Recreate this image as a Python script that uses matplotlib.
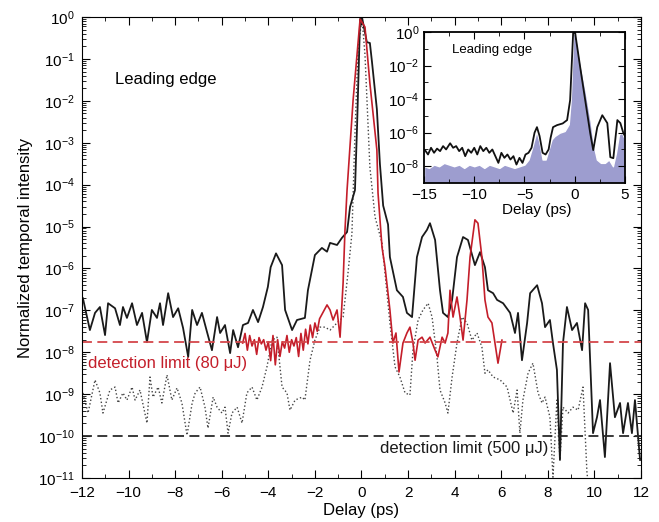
import numpy as np
import matplotlib.pyplot as plt
from matplotlib.ticker import MultipleLocator, LogLocator, FixedLocator, NullFormatter

plt.rcParams['font.family'] = ['Liberation Sans', 'DejaVu Sans']
plt.rcParams['mathtext.fontset'] = 'custom'
plt.rcParams['mathtext.rm'] = 'Liberation Sans'
plt.rcParams['mathtext.it'] = 'Liberation Sans:italic'

# main panel, values are log10 of the normalized intensity
black_x = [-11.96, -11.66, -11.44, -11.23, -11.01, -10.88, -10.58, -10.37, -10.24, -10.07,
           -9.85, -9.64, -9.42, -9.21, -9.0, -8.78, -8.65, -8.52, -8.30, -8.09,
           -7.87, -7.66, -7.44, -7.27, -7.06, -6.85, -6.63, -6.42, -6.20, -6.07,
           -5.86, -5.64, -5.51, -5.30, -5.09, -4.87, -4.66, -4.44, -4.23, -4.02,
           -3.90, -3.67, -3.41, -3.28, -2.98, -2.77, -2.43, -2.30, -2.00, -1.70,
           -1.48, -1.35, -1.05, -0.84, -0.62, -0.49, -0.28, -0.19, -0.06, 0.02,
           0.23, 0.36, 0.45, 0.66, 0.79, 0.93, 1.14, 1.22, 1.52, 1.78,
           1.95, 2.17, 2.38, 2.60, 2.81, 2.94, 3.16, 3.37, 3.50, 3.71,
           3.89, 4.10, 4.36, 4.57, 4.87, 5.09, 5.30, 5.43, 5.65, 5.82,
           6.08, 6.38, 6.59, 6.72, 6.89, 7.11, 7.24, 7.54, 7.75, 7.88,
           8.09, 8.22, 8.39, 8.52, 8.65, 8.82, 9.04, 9.25, 9.47, 9.60,
           9.73, 9.94, 10.11, 10.24, 10.45, 10.67, 10.88, 11.10, 11.23, 11.44,
           11.61, 11.74, 11.96]
black_exp = [-6.71, -7.47, -7.06, -6.92, -7.59, -6.83, -6.95, -7.35, -6.92, -7.18,
             -6.83, -7.35, -7.06, -7.76, -6.99, -7.18, -6.83, -7.35, -6.59, -7.16,
             -6.95, -7.42, -8.11, -6.99, -7.35, -7.06, -7.52, -7.95, -7.16, -7.54,
             -7.35, -8.02, -7.47, -7.88, -7.35, -7.30, -6.99, -7.28, -6.92, -6.44,
             -5.97, -5.64, -5.92, -6.99, -7.47, -7.23, -7.18, -6.52, -5.68, -5.51,
             -5.60, -5.39, -5.44, -5.27, -5.13, -4.53, -4.13, -2.60, -0.05, 0.0,
             -0.60, -0.62, -1.07, -2.20, -3.50, -4.50, -4.95, -5.73, -6.52, -6.68,
             -7.06, -7.16, -5.73, -5.25, -5.08, -4.92, -5.32, -6.52, -7.06, -7.16,
             -6.75, -5.73, -5.25, -5.32, -5.92, -5.61, -5.97, -6.52, -6.59, -6.75,
             -6.83, -7.06, -7.54, -7.06, -8.19, -7.30, -6.59, -6.40, -6.83, -7.40,
             -7.23, -7.78, -8.42, -10.57, -7.78, -6.92, -7.47, -7.30, -7.95, -6.83,
             -6.99, -9.93, -9.55, -9.14, -10.50, -8.26, -9.55, -9.21, -9.93, -9.21,
             -9.93, -9.14, -10.57]

red_x = [-5.1, -5.0, -4.9, -4.8, -4.7, -4.6, -4.5, -4.4, -4.3, -4.2,
         -4.1, -4.0, -3.9, -3.8, -3.7, -3.6, -3.5, -3.4, -3.3, -3.2,
         -3.1, -3.0, -2.9, -2.8, -2.7, -2.6, -2.5, -2.4, -2.3, -2.2,
         -2.1, -2.0, -1.9, -1.8, -1.48, -1.35, -1.22, -1.05, -0.92, -0.79,
         -0.71, -0.62, -0.36, -0.06, 0.15, 0.36, 0.66, 0.71, 0.88, 1.01,
         1.22, 1.35, 1.48, 1.61, 1.78, 1.95, 2.08, 2.21, 2.30, 2.43,
         2.60, 2.73, 2.94, 3.16, 3.28, 3.46, 3.59, 3.71, 3.80, 3.93,
         4.10, 4.23, 4.36, 4.53, 4.66, 4.87, 5.00, 5.17, 5.30, 5.43,
         5.60, 5.73, 5.86, 6.03]
red_exp = [-7.78, -7.55, -7.95, -7.60, -7.85, -7.70, -8.05, -7.65, -7.80, -7.70,
           -7.95, -7.75, -8.20, -7.60, -8.30, -7.70, -8.10, -7.75, -7.90, -7.60,
           -8.00, -7.70, -7.85, -7.65, -8.10, -7.55, -7.95, -7.45, -7.80, -7.35,
           -7.65, -7.30, -7.50, -7.20, -6.87, -6.99, -7.23, -6.99, -7.64, -6.35,
           -5.10, -4.13, -1.98, -0.05, -0.24, -1.58, -3.17, -4.20, -5.49, -5.97,
           -6.99, -7.78, -7.54, -8.47, -7.78, -7.54, -7.40, -7.78, -8.19, -7.71,
           -7.64, -7.78, -7.64, -7.95, -8.11, -7.64, -7.78, -7.54, -6.52, -7.16,
           -6.68, -7.16, -7.71, -6.75, -5.73, -4.84, -4.92, -5.73, -6.75, -7.16,
           -7.30, -7.78, -8.26, -7.71]

gray_x = [-11.96, -11.74, -11.44, -11.23, -11.10, -10.80, -10.58, -10.45, -10.24, -10.07,
          -9.85, -9.72, -9.51, -9.21, -9.08, -8.95, -8.73, -8.57, -8.35, -8.14,
          -7.92, -7.71, -7.49, -7.27, -7.14, -6.93, -6.72, -6.59, -6.37, -6.20,
          -5.99, -5.86, -5.73, -5.56, -5.34, -5.13, -4.92, -4.70, -4.49, -4.27,
          -4.06, -3.84, -3.63, -3.41, -3.20, -3.07, -2.85, -2.55, -2.43, -2.21,
          -2.00, -1.78, -1.57, -1.35, -1.05, -0.79, -0.58, -0.41, -0.28, -0.15,
          0.02, 0.15, 0.36, 0.58, 0.88, 1.01, 1.22, 1.44, 1.65, 1.87,
          2.08, 2.21, 2.43, 2.64, 2.86, 3.03, 3.24, 3.37, 3.59, 3.71,
          3.89, 4.10, 4.32, 4.53, 4.74, 4.96, 5.17, 5.30, 5.43, 5.65,
          5.95, 6.25, 6.51, 6.68, 6.80, 6.93, 7.15, 7.36, 7.58, 7.75,
          7.88, 8.09, 8.22, 8.39, 8.52, 8.65, 8.87, 9.08, 9.30, 9.51,
          9.68, 9.85]
gray_exp = [-8.97, -9.45, -8.66, -8.97, -9.45, -8.90, -8.83, -9.21, -8.97, -9.14,
            -8.83, -9.14, -8.90, -9.69, -8.59, -9.07, -8.83, -9.21, -8.54, -9.14,
            -8.85, -9.21, -9.98, -9.21, -8.97, -8.83, -9.31, -9.81, -9.07, -9.31,
            -9.45, -9.31, -9.93, -9.45, -9.31, -9.69, -8.97, -8.83, -9.14, -8.83,
            -8.35, -7.71, -7.64, -8.83, -8.97, -9.38, -9.14, -9.07, -9.14, -8.19,
            -7.71, -7.40, -7.40, -7.47, -7.30, -7.16, -6.11, -5.16, -2.77, -0.79,
            -0.02, -0.90, -3.58, -4.77, -5.39, -6.11, -7.30, -8.35, -8.59, -8.97,
            -9.02, -7.95, -7.23, -6.99, -6.83, -7.16, -8.11, -8.90, -9.21, -9.45,
            -8.59, -7.78, -7.16, -7.30, -7.71, -7.54, -7.88, -8.50, -8.42, -8.59,
            -8.66, -8.83, -9.45, -8.90, -9.93, -9.14, -8.50, -8.26, -8.97, -9.21,
            -9.07, -9.55, -10.98, -9.14, -10.57, -9.31, -9.45, -9.31, -9.38, -8.83,
            -10.88, -11.60]

limit_80 = 1.8e-8
limit_500 = 1e-10

# inset panel
in_x = [-14.9, -14.6, -14.3, -14.0, -13.7, -13.4, -13.1, -12.8, -12.4, -12.1,
        -11.8, -11.5, -11.2, -10.9, -10.6, -10.3, -10.0, -9.7, -9.4, -9.1,
        -8.8, -8.5, -8.2, -7.9, -7.6, -7.3, -7.0, -6.7, -6.4, -6.1,
        -5.8, -5.5, -5.2, -4.9, -4.6, -4.3, -4.0, -3.76, -3.5, -3.2,
        -2.9, -2.6, -2.4, -2.16, -1.76, -1.2, -0.76, -0.46, -0.16, 0.04,
        0.54, 1.04, 1.54, 1.84, 2.24, 2.74, 3.24, 3.54, 3.84, 4.24,
        4.54, 4.84, 5.0]
in_exp = [-7.04, -7.30, -6.90, -7.20, -6.95, -7.10, -6.80, -7.00, -6.63, -6.90,
          -6.80, -7.10, -6.90, -7.40, -7.00, -7.20, -6.90, -7.30, -6.80, -7.10,
          -6.90, -7.20, -7.00, -7.40, -7.80, -7.20, -7.50, -7.30, -7.60, -7.40,
          -7.90, -7.50, -7.80, -7.30, -7.20, -6.90, -6.00, -5.67, -6.20, -7.20,
          -7.30, -7.00, -6.30, -5.67, -5.55, -5.45, -5.25, -4.06, -0.06, -0.06,
          -2.09, -4.06, -6.03, -7.04, -5.67, -4.96, -5.43, -7.46, -7.52, -5.25,
          -5.43, -6.03, -6.20]

fill_x = [-15.0, -14.5, -14.0, -13.5, -13.0, -12.5, -12.0, -11.5, -11.0, -10.5,
          -10.0, -9.5, -9.0, -8.5, -8.0, -7.5, -7.0, -6.5, -6.0, -5.5,
          -5.0, -4.6, -4.2, -3.8, -3.5, -3.2, -2.9, -2.6, -2.3, -2.0,
          -1.5, -1.0, -0.6, -0.4, -0.15, 0.1, 0.6, 1.1, 1.6, 1.9,
          2.2, 2.6, 3.0, 3.4, 3.8, 4.1, 4.4, 4.7, 5.0]
fill_exp = [-8.0, -8.1, -7.9, -8.0, -7.8, -7.9, -8.0, -7.9, -8.1, -7.9,
            -8.0, -7.9, -8.1, -7.9, -8.0, -8.1, -7.9, -8.0, -8.1, -8.0,
            -7.9, -7.6, -6.8, -5.9, -6.6, -7.6, -7.6, -7.0, -6.4, -6.2,
            -6.0, -5.9, -5.5, -4.0, -0.1, -0.1, -2.0, -3.6, -5.4, -6.8,
            -7.6, -7.8, -7.8, -7.6, -8.0, -7.2, -6.1, -6.0, -6.4]

fig = plt.figure(figsize=(6.59, 5.22), dpi=100)
ax = fig.add_axes([0.1244, 0.0843, 0.8483, 0.8831])

ax.plot(gray_x, 10.0 ** np.array(gray_exp), color='#444444', ls=':', lw=1.0)
ax.plot(black_x, 10.0 ** np.array(black_exp), color='#1a1a1a', lw=1.3)
ax.plot(red_x, 10.0 ** np.array(red_exp), color='#c41e2a', lw=1.2)
ax.axhline(limit_80, color='#d4474b', ls=(0, (5.5, 3)), lw=1.3)
ax.axhline(limit_500, color='#2a2a2a', ls=(0, (5.5, 3)), lw=1.3)

ax.text(-11.74, 10 ** -8.26, 'detection limit (80 μJ)', color='#c41e2a',
        va='center', fontsize=12)
ax.text(0.79, 10 ** -10.29, 'detection limit (500 μJ)', color='#1a1a1a',
        va='center', fontsize=12)
ax.text(-10.6, 10 ** -1.5, 'Leading edge', va='center', fontsize=12)

ax.set_xlim(-12, 12)
ax.set_yscale('log')
ax.set_ylim(1e-11, 1)
ax.xaxis.set_major_locator(MultipleLocator(2))
ax.xaxis.set_minor_locator(MultipleLocator(1))
ax.yaxis.set_major_locator(LogLocator(base=10, numticks=20))
ax.yaxis.set_minor_locator(LogLocator(base=10, subs=np.arange(2, 10), numticks=20))
ax.yaxis.set_minor_formatter(NullFormatter())
ax.tick_params(which='both', direction='in', top=True, right=True, labelsize=11)
ax.tick_params(which='major', length=6)
ax.tick_params(which='minor', length=3)
ax.tick_params(axis='x', which='major', pad=6)
ax.tick_params(axis='y', which='major', pad=5)
ax.set_xlabel('Delay (ps)', fontsize=12, labelpad=2)
ax.set_ylabel('Normalized temporal intensity', fontsize=12)

# inset
axin = fig.add_axes([0.6434, 0.6494, 0.305, 0.2893])
axin.fill_between(fill_x, 1e-9, 10.0 ** np.array(fill_exp), facecolor='#9d9dcf',
                  edgecolor='white', lw=1.0)
axin.plot(in_x, 10.0 ** np.array(in_exp), color='#111111', lw=1.3)
axin.text(-12.2, 10 ** -1.07, 'Leading edge', va='center', fontsize=9.5)
axin.set_xlim(-15, 5)
axin.set_yscale('log')
axin.set_ylim(1e-9, 1)
axin.xaxis.set_major_locator(MultipleLocator(5))
axin.xaxis.set_minor_locator(MultipleLocator(2.5))
axin.yaxis.set_major_locator(FixedLocator([1e-8, 1e-6, 1e-4, 1e-2, 1]))
axin.yaxis.set_minor_locator(FixedLocator([1e-7, 1e-5, 1e-3, 1e-1]))
axin.yaxis.set_minor_formatter(NullFormatter())
axin.tick_params(which='both', direction='in', top=True, right=True, labelsize=11)
axin.tick_params(which='major', length=5)
axin.tick_params(which='minor', length=3)
for s in axin.spines.values():
    s.set_linewidth(1.3)
axin.set_xlabel('Delay (ps)', fontsize=11)
axin.xaxis.set_label_coords(0.56, -0.13)

fig.savefig('out.png', dpi=100)
